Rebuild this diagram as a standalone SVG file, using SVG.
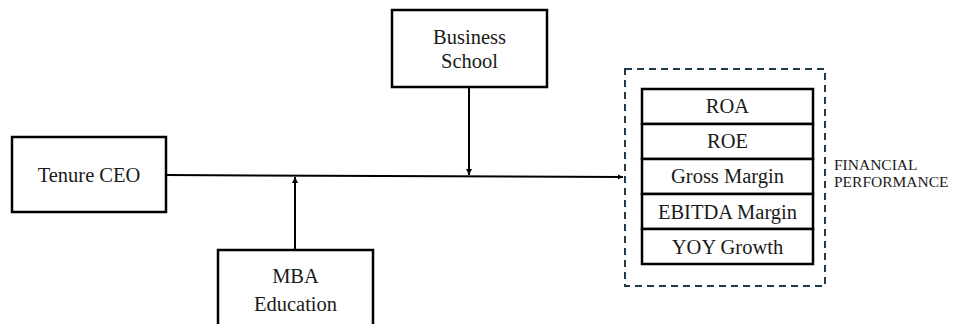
<svg xmlns="http://www.w3.org/2000/svg" width="954" height="324" viewBox="0 0 954 324">
<style>
.box{fill:#fff;stroke:#000;stroke-width:2.5}
.t{font-family:'Liberation Serif','Times New Roman','DejaVu Serif',serif;font-size:20.5px;fill:#1a1a1a;text-anchor:middle}
.s{font-family:'Liberation Serif','Times New Roman','DejaVu Serif',serif;font-size:15.5px;fill:#1a1a1a}
.ln{stroke:#000;stroke-width:2;fill:none}
</style>
<defs>
<marker id="ah" viewBox="0 0 10 10" refX="10" refY="5" markerWidth="5" markerHeight="5" orient="auto" markerUnits="userSpaceOnUse">
<path d="M0,0 L10,5 L0,10 z" fill="#000"/>
</marker>
<marker id="ah2" viewBox="0 0 10 10" refX="10" refY="5" markerWidth="6" markerHeight="6" orient="auto" markerUnits="userSpaceOnUse">
<path d="M0,0 L10,5 L0,10 z" fill="#000"/>
</marker>
</defs>
<g id="connectors">
<line class="ln" x1="166" y1="175" x2="623" y2="177" marker-end="url(#ah)"/>
<line class="ln" x1="469" y1="87" x2="469" y2="175" marker-end="url(#ah2)"/>
<line class="ln" x1="295" y1="250" x2="295" y2="177" marker-end="url(#ah2)"/>
</g>
<g id="tenure-ceo">
<rect class="box" x="12" y="137" width="154" height="75"/>
<text class="t" x="89" y="182" font-family="Liberation Serif, serif">Tenure CEO</text>
</g>
<g id="business-school">
<rect class="box" x="392" y="10" width="155" height="77"/>
<text class="t" x="469.5" y="44">Business</text>
<text class="t" x="469.5" y="68">School</text>
</g>
<g id="mba-education">
<rect class="box" x="218" y="250" width="155" height="80"/>
<text class="t" x="295.5" y="283">MBA</text>
<text class="t" x="295.5" y="311">Education</text>
</g>
<g id="financial-performance">
<rect x="625" y="69" width="200" height="217" fill="none" stroke="#1f3a4a" stroke-width="2" stroke-dasharray="7,5"/>
<rect class="box" x="642" y="89" width="171" height="35"/>
<rect class="box" x="642" y="124" width="171" height="35"/>
<rect class="box" x="642" y="159" width="171" height="35"/>
<rect class="box" x="642" y="194" width="171" height="35"/>
<rect class="box" x="642" y="229" width="171" height="35"/>
<text class="t" x="727.5" y="113">ROA</text>
<text class="t" x="727.5" y="148">ROE</text>
<text class="t" x="727.5" y="183">Gross Margin</text>
<text class="t" x="727.5" y="219">EBITDA Margin</text>
<text class="t" x="727.5" y="254">YOY Growth</text>
<text class="s" x="834" y="170">FINANCIAL</text>
<text class="s" x="834" y="187">PERFORMANCE</text>
</g>
</svg>
